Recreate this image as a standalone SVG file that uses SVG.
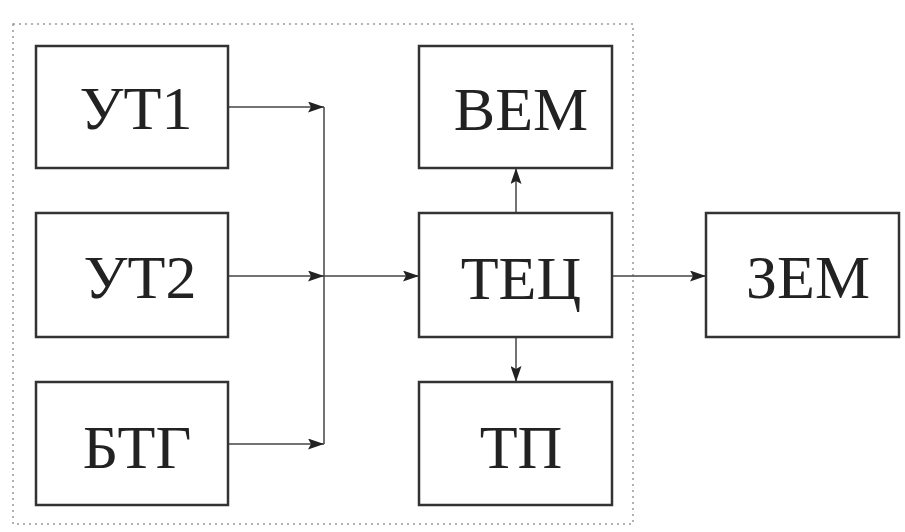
<svg xmlns="http://www.w3.org/2000/svg" width="905" height="532" viewBox="0 0 905 532">
<style>
.box{fill:#fff;stroke:#333;stroke-width:2.5}
.lbl{font-family:"Liberation Serif","Times New Roman",serif;font-size:62px;fill:#222;text-anchor:middle}
.con{fill:none;stroke:#444;stroke-width:1.5}
</style>
<defs>
<marker id="ah" viewBox="0 0 16 11" refX="16" refY="5.5" markerWidth="16" markerHeight="11" markerUnits="userSpaceOnUse" orient="auto">
<path d="M0,0 L16,5.5 L0,11 L3,5.5 Z" fill="#222"/>
</marker>
</defs>
<rect x="0" y="0" width="905" height="532" fill="#fff"/>
<rect x="13" y="24" width="620" height="500" fill="none" stroke="#999" stroke-width="1.5" stroke-dasharray="2 4"/>
<g id="connectors">
<line class="con" x1="228" y1="107" x2="324" y2="107" marker-end="url(#ah)"/>
<line class="con" x1="228" y1="276" x2="324" y2="276" marker-end="url(#ah)"/>
<line class="con" x1="228" y1="444" x2="324" y2="444" marker-end="url(#ah)"/>
<line class="con" x1="324" y1="107" x2="324" y2="444"/>
<line class="con" x1="324" y1="276" x2="419" y2="276" marker-end="url(#ah)"/>
<line class="con" x1="516" y1="213" x2="516" y2="168" marker-end="url(#ah)"/>
<line class="con" x1="516" y1="337" x2="516" y2="382" marker-end="url(#ah)"/>
<line class="con" x1="612" y1="276" x2="706" y2="276" marker-end="url(#ah)"/>
</g>
<g id="UT1"><rect class="box" x="36" y="46" width="192" height="122"/><text class="lbl" x="136" y="129">УТ1</text></g>
<g id="UT2"><rect class="box" x="36" y="213" width="192" height="124"/><text class="lbl" x="140" y="298">УТ2</text></g>
<g id="BTG"><rect class="box" x="36" y="382" width="192" height="123"/><text class="lbl" x="137" y="468">БТГ</text></g>
<g id="VEM"><rect class="box" x="419" y="46" width="193" height="122"/><text class="lbl" x="521" y="130">ВЕМ</text></g>
<g id="TEC"><rect class="box" x="419" y="213" width="193" height="124"/><text class="lbl" x="521" y="299">ТЕЦ</text></g>
<g id="TP"><rect class="box" x="419" y="382" width="193" height="123"/><text class="lbl" x="521" y="468">ТП</text></g>
<g id="ZEM"><rect class="box" x="706" y="213" width="193" height="124"/><text class="lbl" x="808" y="298">ЗЕМ</text></g>
</svg>
